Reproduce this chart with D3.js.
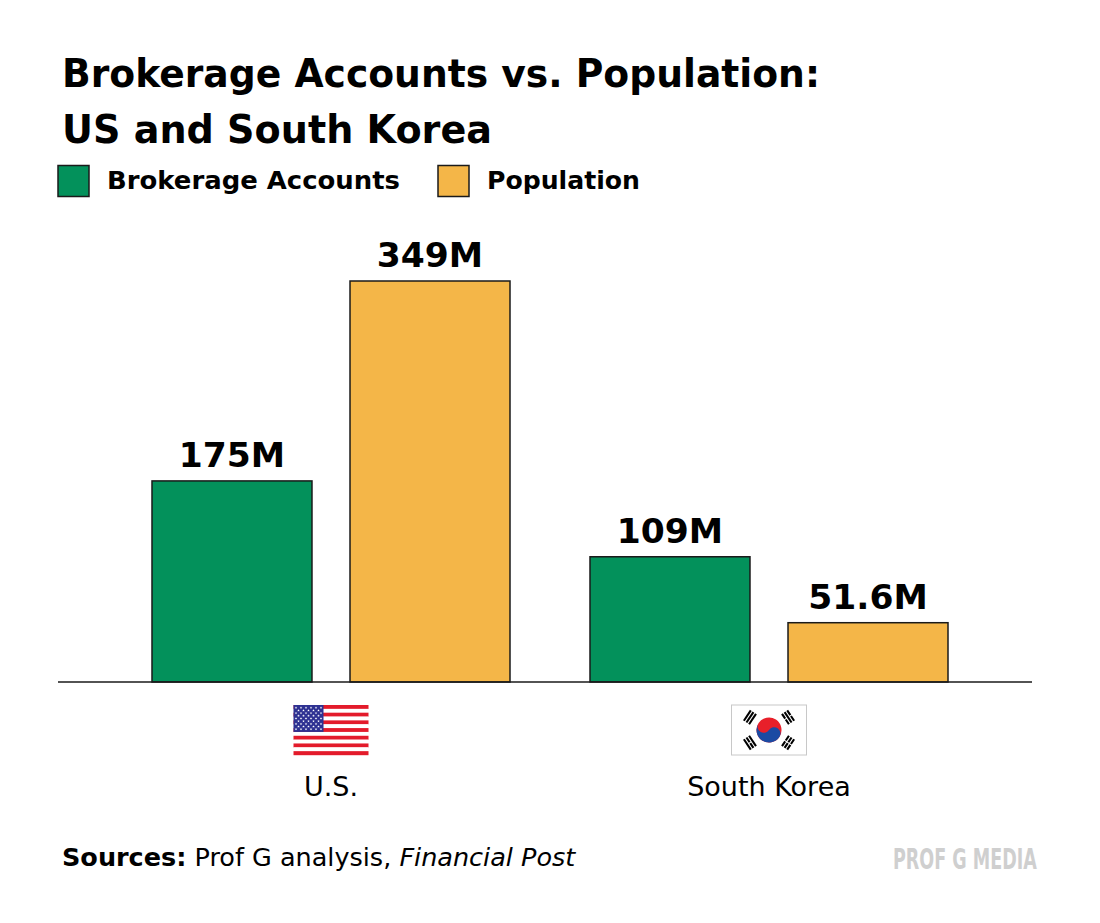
<!DOCTYPE html>
<html>
<head>
<meta charset="utf-8">
<script src="https://cdn.jsdelivr.net/npm/d3@7"></script>
<style>
  body { margin: 0; background: #fff; }
  svg { display: block; }
</style>
</head>
<body>
<div id="chart"></div>
<script>
const svgWidth = 1100;
const svgHeight = 923;

// Data
const countries = ["U.S.", "South Korea"];
const seriesNames = ["Brokerage Accounts", "Population"];
const brokerageAccounts = [175, 109];
const population = [349, 51.6];
const valueLabels = [["175M", "349M"], ["109M", "51.6M"]];
const seriesColors = ["#03915b", "#f4b648"];

const baseY = 682;
const topY = 281;
const fontFamily = "'DejaVu Sans', 'Liberation Sans', sans-serif";

const svg = d3.select("#chart")
  .append("svg")
  .attr("width", svgWidth)
  .attr("height", svgHeight);

svg.append("rect")
  .attr("width", svgWidth)
  .attr("height", svgHeight)
  .attr("fill", "#fff");

// Title
const title = svg.append("g")
  .attr("font-family", fontFamily)
  .attr("font-weight", 700)
  .attr("font-size", 38.5)
  .attr("fill", "#000");
title.append("text").attr("x", 62).attr("y", 87)
  .attr("textLength", 758).attr("lengthAdjust", "spacingAndGlyphs")
  .text("Brokerage Accounts vs. Population:");
title.append("text").attr("x", 62).attr("y", 143)
  .attr("textLength", 430).attr("lengthAdjust", "spacingAndGlyphs")
  .text("US and South Korea");

// Legend
const legendX = [58, 438];
const legendTextW = [293, 153];
const legend = svg.append("g");
seriesNames.forEach((name, i) => {
  legend.append("rect")
    .attr("x", legendX[i]).attr("y", 165.5)
    .attr("width", 31).attr("height", 31)
    .attr("fill", seriesColors[i])
    .attr("stroke", "#1a1a1a")
    .attr("stroke-width", 1.5);
  legend.append("text")
    .attr("x", legendX[i] + 49).attr("y", 188.5)
    .attr("textLength", legendTextW[i]).attr("lengthAdjust", "spacingAndGlyphs")
    .attr("font-family", fontFamily)
    .attr("font-weight", 700)
    .attr("font-size", 25)
    .attr("fill", "#000")
    .text(name);
});

// Scales
const x0 = d3.scaleBand()
  .domain(countries)
  .range([112, 988]);

const x1 = d3.scaleBand()
  .domain(seriesNames)
  .range([0, x0.bandwidth()])
  .paddingInner(0.192)
  .paddingOuter(0.202);

const y = d3.scaleLinear()
  .domain([0, d3.max(population)])
  .range([baseY, topY]);

const rows = countries.map((c, i) => ({
  country: c,
  values: [brokerageAccounts[i], population[i]],
  labels: valueLabels[i]
}));

const groups = svg.selectAll(".country")
  .data(rows)
  .enter()
  .append("g")
  .attr("class", "country")
  .attr("transform", d => `translate(${x0(d.country)},0)`);

const bars = groups.selectAll(".bar")
  .data(d => d.values.map((v, j) => ({ series: seriesNames[j], value: v, label: d.labels[j], j })))
  .enter();

bars.append("rect")
  .attr("x", d => x1(d.series))
  .attr("y", d => y(d.value))
  .attr("width", x1.bandwidth())
  .attr("height", d => baseY - y(d.value))
  .attr("fill", d => seriesColors[d.j])
  .attr("stroke", "#1a1a1a")
  .attr("stroke-width", 1.5);

bars.append("text")
  .attr("x", d => x1(d.series) + x1.bandwidth() / 2)
  .attr("y", d => y(d.value) - 14)
  .attr("text-anchor", "middle")
  .attr("font-family", fontFamily)
  .attr("font-weight", 700)
  .attr("font-size", 34.5)
  .attr("fill", "#000")
  .text(d => d.label);

// Baseline axis
const xAxis = svg.append("g")
  .attr("transform", `translate(0,${baseY})`)
  .call(d3.axisBottom(x0).tickSize(0).tickFormat(""));
xAxis.select(".domain").remove();
xAxis.append("line")
  .attr("x1", 58).attr("x2", 1032)
  .attr("stroke", "#1a1a1a")
  .attr("stroke-width", 1.5);

// Country labels
svg.selectAll(".clabel")
  .data(countries)
  .enter()
  .append("text")
  .attr("class", "clabel")
  .attr("x", d => x0(d) + x0.bandwidth() / 2)
  .attr("y", 796)
  .attr("text-anchor", "middle")
  .attr("font-family", fontFamily)
  .attr("font-size", 27)
  .attr("fill", "#000")
  .text(d => d);

// Flags
const flagW = 75, flagH = 50, flagTop = 705;

function drawUSFlag(g) {
  const stripeH = flagH / 13;
  d3.range(13).forEach(i => {
    g.append("rect")
      .attr("x", 0).attr("y", i * stripeH)
      .attr("width", flagW).attr("height", stripeH + 0.2)
      .attr("fill", i % 2 === 0 ? "#e31b2b" : "#fff");
  });
  const cantonW = flagW * 0.4, cantonH = stripeH * 7;
  g.append("rect")
    .attr("width", cantonW).attr("height", cantonH)
    .attr("fill", "#2e3192");
  const star = d3.symbol().type(d3.symbolStar).size(2.2);
  d3.range(9).forEach(r => {
    const n = r % 2 === 0 ? 6 : 5;
    d3.range(n).forEach(c => {
      const sx = (r % 2 === 0 ? (c * 2 + 1) : (c * 2 + 2)) * cantonW / 12;
      const sy = (r + 1) * cantonH / 10;
      g.append("path")
        .attr("d", star)
        .attr("transform", `translate(${sx},${sy})`)
        .attr("fill", "#fff");
    });
  });
}

function drawKRFlag(g) {
  g.append("rect")
    .attr("width", flagW).attr("height", flagH)
    .attr("fill", "#fff")
    .attr("stroke", "#c8c8c8")
    .attr("stroke-width", 1);
  const k = g.append("g")
    .attr("transform", `translate(${flagW / 2},${flagH / 2}) scale(${flagW / 72})`);
  // one trigram: three bars, true = broken bar
  const trigram = (parent, breaks) => {
    [-25, -22, -19].forEach((yy, bi) => {
      parent.append("path")
        .attr("d", breaks[bi] ? `M-6,${yy}H-0.5M0.5,${yy}H6` : `M-6,${yy}H6`)
        .attr("stroke", "#000").attr("stroke-width", 2);
    });
  };
  const a = k.append("g").attr("transform", "rotate(-56.31)");
  trigram(a, [false, false, false]);
  trigram(a.append("g").attr("transform", "rotate(180)"), [true, true, true]);
  a.append("circle").attr("r", 12).attr("fill", "#e8202a");
  a.append("path")
    .attr("d", "M0-12A6,6 0 0 0 0,0A6,6 0 0 1 0,12A12,12 0 0,1 0-12z")
    .attr("fill", "#1b4aa3");
  const b = k.append("g").attr("transform", "rotate(-123.69)");
  trigram(b, [false, true, false]);
  trigram(b.append("g").attr("transform", "rotate(180)"), [true, false, true]);
}

const flagFns = [drawUSFlag, drawKRFlag];
countries.forEach((c, i) => {
  const g = svg.append("g")
    .attr("transform", `translate(${x0(c) + x0.bandwidth() / 2 - flagW / 2},${flagTop})`);
  flagFns[i](g);
});

// Footer
const footer = svg.append("text")
  .attr("x", 62).attr("y", 866)
  .attr("font-family", fontFamily)
  .attr("font-size", 25.5)
  .attr("fill", "#000");
footer.append("tspan").attr("font-weight", 700).text("Sources:");
footer.append("tspan").text(" Prof G analysis, ");
footer.append("tspan").attr("font-style", "italic").text("Financial Post");

// Condensed logo text: squeeze horizontally to the reference width
const logo = svg.append("text")
  .attr("font-family", fontFamily)
  .attr("font-weight", 700)
  .attr("font-size", 29)
  .attr("fill", "#cfcfcf")
  .text("PROF G MEDIA");
const logoLen = logo.node().getComputedTextLength();
logo.attr("transform", `translate(893,869) scale(${144 / logoLen},1)`);
</script>
</body>
</html>
